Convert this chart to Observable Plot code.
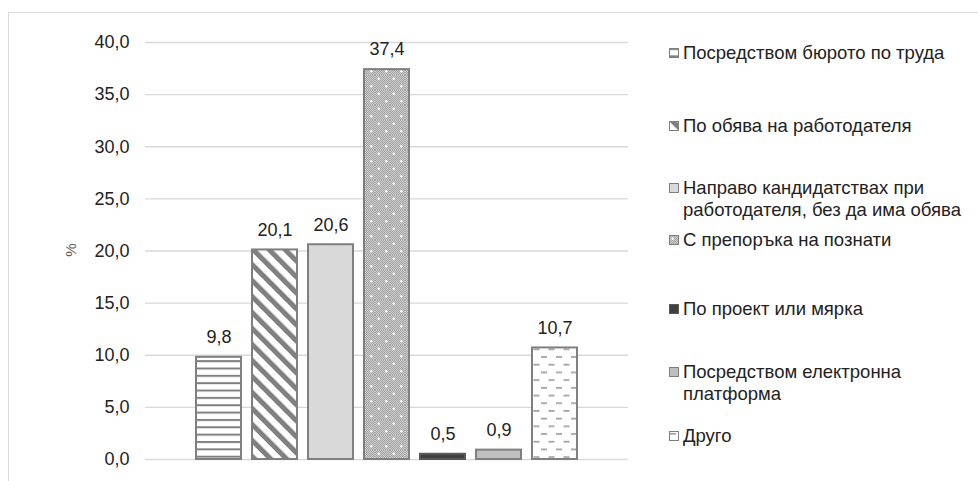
<!DOCTYPE html>
<html><head><meta charset="utf-8">
<script src="https://cdn.jsdelivr.net/npm/d3@7"></script>
<script src="https://cdn.jsdelivr.net/npm/@observablehq/plot@0.6"></script>
<style>
body{margin:0;background:#fff;font-family:"Liberation Sans",Arial,sans-serif;color:#222;}
#wrap{position:relative;width:978px;height:481px;overflow:hidden;}
#frame{position:absolute;left:8px;top:12px;width:1000px;height:500px;border:1px solid #d9d9d9;box-sizing:border-box;}
#chart{position:absolute;left:0;top:0;}
.item{position:absolute;left:669px;display:flex;align-items:flex-start;font-size:18.5px;line-height:22px;width:300px;}
.item svg{flex:none;margin-top:6px;margin-right:4px;}
</style>
</head><body>
<div id="wrap"><div id="frame"></div><div id="chart"></div><div id="legend"></div></div>
<script>
const categories = [
  "Посредством бюрото по труда",
  "По обява на работодателя",
  "Направо кандидатствах при работодателя, без да има обява",
  "С препоръка на познати",
  "По проект или мярка",
  "Посредством електронна платформа",
  "Друго"
];
const values = [9.8, 20.1, 20.6, 37.4, 0.5, 0.9, 10.7];
const yTicks = [0, 5, 10, 15, 20, 25, 30, 35, 40];
const fills = ["url(#p1)", "url(#p2)", "#d9d9d9", "url(#p4)", "#404040", "#bfbfbf", "url(#p7)"];
const strokes = ["#7f7f7f", "#7f7f7f", "#7f7f7f", "#7f7f7f", "#595959", "#7f7f7f", "#7f7f7f"];
const legendTops = [42, 115, 177, 229, 298, 361, 425];
const legendWidths = [305, 305, 305, 305, 305, 240, 305];

const data = categories.map((c, i) => ({cat: c, value: values[i], fill: fills[i], stroke: strokes[i]}));
const fmt = v => v.toFixed(1).replace(".", ",");

const chart = Plot.plot({
  width: 640, height: 481,
  marginLeft: 145, marginRight: 12, marginTop: 42, marginBottom: 22,
  style: {fontFamily: '"Liberation Sans", Arial, sans-serif', fontSize: "18px", color: "#222", background: "transparent"},
  x: {domain: categories, padding: 0.2, insetLeft: 37, insetRight: 37, axis: null},
  y: {domain: [0, 40], ticks: yTicks, tickFormat: fmt, label: null, grid: false},
  color: {type: "identity"},
  marks: [
    Plot.ruleY(yTicks, {stroke: "#d9d9d9", strokeWidth: 1.3, strokeOpacity: 1}),
    Plot.axisY({ticks: yTicks, tickFormat: fmt, tickSize: 0, tickPadding: 16, label: null, fontSize: 18}),
    Plot.barY(data, {x: "cat", y: "value", fill: "fill", stroke: "stroke", strokeWidth: 2}),
    Plot.text(data, {x: "cat", y: "value", text: d => fmt(d.value), dy: -20, fontSize: 18, fill: "#222"})
  ]
});

const svg = d3.select(chart);
const defs = svg.insert("defs", ":first-child");
const p1 = defs.append("pattern").attr("id", "p1").attr("patternUnits", "userSpaceOnUse").attr("width", 8).attr("height", 7.35);
p1.append("rect").attr("width", 8).attr("height", 7.35).attr("fill", "#fff");
p1.append("rect").attr("y", 0).attr("width", 8).attr("height", 2).attr("fill", "#808080");
const p2 = defs.append("pattern").attr("id", "p2").attr("patternUnits", "userSpaceOnUse").attr("width", 11.3).attr("height", 11.3).attr("patternTransform", "rotate(-45)");
p2.append("rect").attr("width", 11.3).attr("height", 11.3).attr("fill", "#fff");
p2.append("rect").attr("width", 5).attr("height", 11.3).attr("fill", "#808080");
const chk = defs.append("pattern").attr("id", "chk").attr("patternUnits", "userSpaceOnUse").attr("width", 2).attr("height", 2);
chk.append("rect").attr("width", 2).attr("height", 2).attr("fill", "#d0d0d0");
chk.append("rect").attr("width", 1).attr("height", 1).attr("fill", "#a0a0a0");
chk.append("rect").attr("x", 1).attr("y", 1).attr("width", 1).attr("height", 1).attr("fill", "#a0a0a0");
const p4 = defs.append("pattern").attr("id", "p4").attr("patternUnits", "userSpaceOnUse").attr("width", 15).attr("height", 15);
p4.append("rect").attr("width", 15).attr("height", 15).attr("fill", "url(#chk)");
p4.append("circle").attr("cx", 3.75).attr("cy", 3.75).attr("r", 1.2).attr("fill", "#fff");
p4.append("circle").attr("cx", 11.25).attr("cy", 11.25).attr("r", 1.2).attr("fill", "#fff");
const p7 = defs.append("pattern").attr("id", "p7").attr("patternUnits", "userSpaceOnUse").attr("width", 15).attr("height", 15.4);
p7.append("rect").attr("width", 15).attr("height", 15.4).attr("fill", "#fff");
p7.append("rect").attr("x", 1).attr("y", 2).attr("width", 6).attr("height", 1.6).attr("fill", "#9a9a9a");
p7.append("rect").attr("x", 8.5).attr("y", 9.7).attr("width", 6).attr("height", 1.6).attr("fill", "#9a9a9a");

svg.append("text").attr("transform", "translate(72,250) rotate(-90)").attr("text-anchor", "middle")
  .attr("dominant-baseline", "middle").attr("fill", "#595959").attr("font-size", 15).text("%");

document.getElementById("chart").appendChild(chart);

const legend = d3.select("#legend");
data.forEach((d, i) => {
  const it = legend.append("div").attr("class", "item").style("top", legendTops[i] + "px").style("width", legendWidths[i] + "px");
  const s = it.append("svg").attr("width", 10).attr("height", 10);
  s.append("rect").attr("x", 0.5).attr("y", 0.5).attr("width", 9).attr("height", 9)
    .attr("fill", d.fill).attr("stroke", d.stroke).attr("stroke-width", 1);
  it.append("span").text(d.cat);
});
</script>
</body></html>
